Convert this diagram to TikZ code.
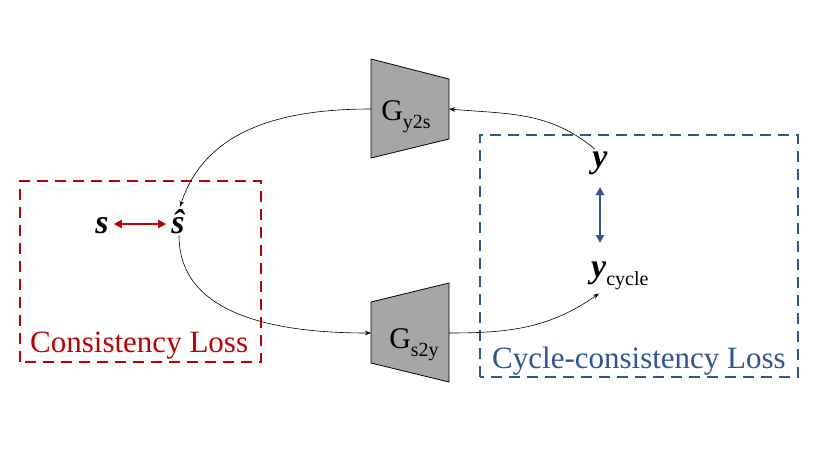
\documentclass[tikz,border=0pt]{standalone}
\usepackage{fontspec}
\setmainfont{Liberation Serif}
\usetikzlibrary{arrows.meta}
\definecolor{lossred}{RGB}{192,0,0}
\definecolor{lossblue}{RGB}{47,85,151}
\tikzset{
  gen/.style={fill=black!35, draw=black, line width=0.8pt},
  glabel/.style={inner sep=0pt, font=\fontsize{30}{34}\selectfont},
  var/.style={inner sep=2pt, font=\fontsize{34}{38}\selectfont\bfseries\itshape},
  flow/.style={-{Stealth[length=6pt,width=4.5pt]}, line width=0.6pt},
  lossbox/.style={dash pattern=on 11pt off 7pt, line width=2.6pt},
  losstext/.style={inner sep=0pt, font=\fontsize{31}{35}\selectfont},
  match/.style={{Triangle[length=8pt,width=8pt]}-{Triangle[length=8pt,width=8pt]}, line width=2.2pt}
}
\newcommand{\sub}[1]{\raisebox{-8pt}{\fontsize{20}{22}\selectfont #1}}
\begin{document}
\begin{tikzpicture}[x=1pt, y=1pt]
\useasboundingbox (0,0) rectangle (830,467);
\draw[lossbox, lossred] (20,105) rectangle (261,286);
\draw[lossbox, lossblue] (480,90) rectangle (798,332);
\node[losstext, lossred, anchor=base west] (closs) at (30,115) {Consistency Loss};
\node[losstext, lossblue, anchor=base west] (ccloss) at (492,99) {Cycle-consistency Loss};
\filldraw[gen] (371,408) -- (449,388) -- (449,328) -- (371,309) -- cycle;
\filldraw[gen] (371,165) -- (449,184) -- (449,85) -- (371,104) -- cycle;
\coordinate (gysin) at (449,358);
\coordinate (gysout) at (371,358);
\coordinate (gsyin) at (371,134);
\coordinate (gsyout) at (449,134);
\node[glabel, anchor=base] (gys) at (406,347) {G\sub{y2s}};
\node[glabel, anchor=base] (gsy) at (414,119) {G\sub{s2y}};
\node[var, anchor=base] (s) at (102,234) {s};
\node[var, anchor=base] (shat) at (178,234) {ŝ};
\node[var, anchor=base] (y) at (600,300) {y};
\node[var, anchor=base west, inner sep=0pt] (ycyc) at (591,190) {y\sub{\mdseries\upshape cycle}};
\draw[match, lossred] ([xshift=3pt]s.east |- 0,243) to ([xshift=-3pt]shat.west |- 0,243);
\draw[match, lossblue] (y.south |- 0,280) to (y.south |- 0,224);
\draw[flow] (gysout) to[out=180, in=72] ([xshift=2pt]shat.north);
\draw[flow] ([xshift=-5pt]y.north) to[out=140, in=-5] (gysin);
\draw[flow] ([xshift=1pt]shat.south) to[out=-90, in=180] (gsyin);
\draw[flow] (gsyout) to[out=0, in=-145] ([xshift=8pt,yshift=-4pt]ycyc.south west);
\end{tikzpicture}
\end{document}
